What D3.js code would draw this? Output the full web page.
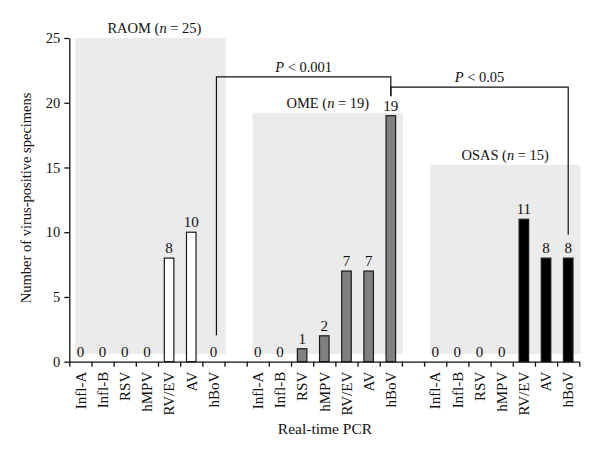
<!DOCTYPE html>
<html>
<head>
<meta charset="utf-8">
<script src="https://cdn.jsdelivr.net/npm/d3@7"></script>
<style>
  body { margin: 0; background: #fff; }
  svg { display: block; }
  text { font-family: "Liberation Serif", "DejaVu Serif", serif; fill: #111; }
</style>
</head>
<body>
<svg id="chart" width="600" height="460"></svg>
<script>
// ---- Data ----
const groups = ["RAOM", "OME", "OSAS"];
const groupN = [25, 19, 15];
const viruses = ["Infl-A", "Infl-B", "RSV", "hMPV", "RV/EV", "AV", "hBoV"];
const raomValues = [0, 0, 0, 0, 8, 10, 0];
const omeValues  = [0, 0, 1, 2, 7, 7, 19];
const osasValues = [0, 0, 0, 0, 11, 8, 8];
const groupValues = [raomValues, omeValues, osasValues];
const groupFills = ["#ffffff", "#808080", "#000000"];
const yTicks = [0, 5, 10, 15, 20, 25];
const yTitle = "Number of virus-positive specimens";
const xTitle = "Real-time PCR";
// significance brackets
const brackets = [
  { from: ["RAOM", "hBoV"], to: ["OME", "hBoV"], label: "0.001", level: 22, fromLow: 2.05, toLow: 20.5 },
  { from: ["OME", "hBoV"], to: ["OSAS", "hBoV"], label: "0.05", level: 21.2, fromLow: 20.5, toLow: 9.8 }
];

(function () {
// ---- Layout ----
const svg = d3.select("#chart");
const mLeft = 69.3, mRight = 579.3, mTop = 38, mBottom = 361.7;

const slots = [];
groups.forEach((g, gi) => {
  viruses.forEach(v => slots.push({ key: g + "|" + v, group: g, virus: v }));
  if (gi < groups.length - 1) slots.push({ key: "gap" + gi, group: null, virus: "" });
});

const x = d3.scaleBand().domain(slots.map(s => s.key)).range([mLeft, mRight]).padding(0);
const xIdx = d3.scaleLinear().domain([0, slots.length]).range([mLeft, mRight]);
const y = d3.scaleLinear().domain([0, 25]).range([mBottom, mTop]);
const bw = x.bandwidth();
const barW = bw * 0.43;

// ---- Gray group panels ----
groups.forEach((g, gi) => {
  const x0 = x(g + "|" + viruses[0]);
  const x1 = x(g + "|" + viruses[viruses.length - 1]) + bw;
  const topVal = Math.min(25, groupN[gi] + 0.22);
  const px0 = x0 + 6, px1 = x1 + 1;
  svg.append("rect")
    .attr("x", px0).attr("y", y(topVal))
    .attr("width", px1 - px0).attr("height", y(0.6) - y(topVal))
    .attr("fill", "#ebebeb");
  const t = svg.append("text")
    .attr("x", (px0 + px1) / 2 + (gi === 0 ? 4 : 0))
    .attr("y", y(topVal) - 5)
    .attr("text-anchor", "middle")
    .style("font-size", "14.5px");
  t.append("tspan").text(g + " (");
  t.append("tspan").style("font-style", "italic").text("n");
  t.append("tspan").text(" = " + groupN[gi] + ")");
});

// ---- Bars ----
groups.forEach((g, gi) => {
  const data = viruses.map((v, i) => ({ key: g + "|" + v, value: groupValues[gi][i] }));
  svg.append("g").selectAll("rect").data(data.filter(d => d.value > 0)).join("rect")
    .attr("x", d => x(d.key) + (bw - barW) / 2)
    .attr("y", d => y(d.value))
    .attr("width", barW)
    .attr("height", d => y(0) - y(d.value))
    .attr("fill", groupFills[gi])
    .attr("stroke", "#1a1a1a")
    .attr("stroke-width", 1.2);
  svg.append("g").selectAll("text").data(data).join("text")
    .attr("x", d => x(d.key) + bw / 2)
    .attr("y", d => y(d.value) - 5)
    .attr("text-anchor", "middle")
    .style("font-size", "15px")
    .text(d => d.value);
});

// ---- Axes ----
const yAxis = d3.axisLeft(y).tickValues(yTicks).tickSize(5).tickSizeOuter(0).tickPadding(4);
const gy = svg.append("g").attr("transform", `translate(${mLeft},0)`).call(yAxis);
gy.selectAll("text").style("font-size", "14.5px").style("font-family", '"Liberation Serif", serif').attr("fill", "#111");
gy.selectAll("line, path").attr("stroke", "#111").attr("stroke-width", 1.3);

const xTickAxis = d3.axisBottom(xIdx).tickValues(d3.range(0, slots.length + 1)).tickSize(5).tickSizeOuter(0).tickFormat("");
const gxt = svg.append("g").attr("transform", `translate(0,${mBottom})`).call(xTickAxis);
gxt.selectAll("line, path").attr("stroke", "#111").attr("stroke-width", 1.3);

const xLabelAxis = d3.axisBottom(x).tickSize(0).tickFormat(k => slots.find(s => s.key === k).virus);
const gxl = svg.append("g").attr("transform", `translate(0,${mBottom})`).call(xLabelAxis);
gxl.select(".domain").remove();
gxl.selectAll("text")
  .attr("transform", "rotate(-90)")
  .attr("x", -10).attr("y", 0).attr("dy", "0.35em")
  .style("text-anchor", "end")
  .style("font-size", "15px")
  .style("font-family", '"Liberation Serif", serif')
  .attr("fill", "#111");

// ---- Axis titles ----
svg.append("text")
  .attr("transform", `translate(31,${(mTop + mBottom) / 2 - 2}) rotate(-90)`)
  .attr("text-anchor", "middle")
  .style("font-size", "14.5px")
  .text(yTitle);
svg.append("text")
  .attr("x", 325).attr("y", 434)
  .attr("text-anchor", "middle")
  .style("font-size", "15.5px")
  .text(xTitle);

// ---- Significance brackets ----
brackets.forEach((b, bi) => {
  const xa = x(b.from.join("|")) + bw / 2 + (bi === 0 ? 3 : 0);
  const xb = x(b.to.join("|")) + bw / 2;
  const line = d3.line();
  svg.append("path")
    .attr("d", line([[xa, y(b.fromLow)], [xa, y(b.level)], [xb, y(b.level)], [xb, y(b.toLow)]]))
    .attr("fill", "none").attr("stroke", "#111").attr("stroke-width", 1.2);
  const t = svg.append("text")
    .attr("x", (xa + xb) / 2).attr("y", y(b.level) - 5)
    .attr("text-anchor", "middle")
    .style("font-size", "14.5px");
  t.append("tspan").style("font-style", "italic").text("P");
  t.append("tspan").text(" < " + b.label);
});
})();
</script>
</body>
</html>
